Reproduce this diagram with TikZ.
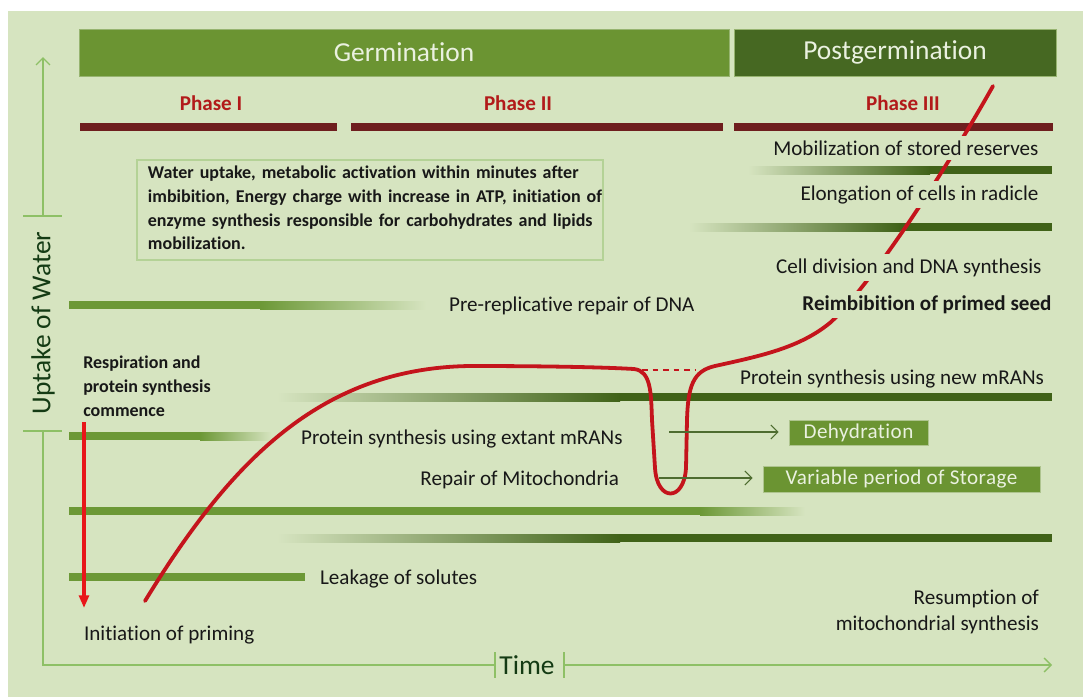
\documentclass[tikz,border=0pt]{standalone}
\usepackage{fontspec}
\setmainfont{Carlito}[Ligatures={NoCommon,TeX}]
\usepackage{xcolor}
\usepackage{tikz}
\usetikzlibrary{arrows.meta}

\definecolor{bgcol}{RGB}{214,228,192}
\definecolor{germgreen}{RGB}{107,148,50}
\definecolor{postgreen}{RGB}{70,104,34}
\definecolor{midgreen}{RGB}{108,152,54}
\definecolor{darkgreen}{RGB}{64,98,24}
\definecolor{axisgreen}{RGB}{142,192,102}
\definecolor{boxgreen}{RGB}{180,210,150}
\definecolor{linegreen}{RGB}{78,108,48}
\definecolor{phasered}{RGB}{178,26,26}
\definecolor{phasebarcol}{RGB}{110,30,30}
\definecolor{curvered}{RGB}{196,20,28}
\definecolor{arrowred}{RGB}{232,22,26}
\definecolor{lighttext}{RGB}{234,241,224}
\definecolor{txtcol}{RGB}{24,24,24}

\begin{document}
\begin{tikzpicture}[
	x=0.025cm, y=-0.025cm,
	every node/.style={text=txtcol, font=\fontsize{15}{18}\selectfont, inner sep=2pt},
	masked/.style={fill=bgcol, inner sep=3pt},
	small/.style={font=\fontsize{12.8}{16.8}\selectfont\bfseries},
	header/.style={draw=germgreen!70!white, text=lighttext, font=\fontsize{19.5}{22}\selectfont, minimum height=1.175cm},
	phase/.style={text=phasered, font=\fontsize{15}{18}\selectfont\bfseries},
	phasebar/.style={fill=phasebarcol},
	axis/.style={draw=axisgreen, line width=0.9pt},
	axislabel/.style={text=txtcol!85!green, font=\fontsize{19.5}{22}\selectfont},
	curve/.style={draw=curvered, line width=2.7pt, line cap=round},
	edge/.style={draw=linegreen, line width=0.8pt, -{Straight Barb[length=5pt,width=10pt]}, shorten >=0.25cm},
	stage/.style={fill=germgreen, draw=germgreen!55!white, text=lighttext, font=\fontsize{15}{18}\selectfont\addfontfeature{LetterSpace=2}}
	]
	
	% Background
	\useasboundingbox (0,0) rectangle (1083,697);
	\fill[white] (0,0) rectangle (1083,697);
	\fill[bgcol] (8,11) rectangle (1083,697);
	
	% Define header nodes
	\node (germination) [header, fill=germgreen, minimum width=16.25cm] at (404,52.5) {Germination};
	\node (postgermination) [header, fill=postgreen, minimum width=8.05cm] at (895,52.5) {Postgermination};
	
	\node (phaseOne) [phase] at (211,103) {Phase I};
	\node (phaseTwo) [phase] at (518,103) {Phase II};
	\node (phaseThree) [phase] at (903,103) {Phase III};
	\path [phasebar] (80,123) rectangle (337,131);
	\path [phasebar] (351,123) rectangle (723,131);
	\path [phasebar] (734,123) rectangle (1053,131);
	
	% Axes
	\node (uptake) [axislabel, rotate=90] at (43,323) {Uptake of Water};
	\node (time) [axislabel] at (527,665) {Time};
	\draw [axis] (23,216) -- (62,216);
	\draw [axis] (23,431) -- (62,431);
	\draw [axis, -{Straight Barb[length=5pt,width=10pt]}] (43,216) -- (43,57);
	\draw [axis] (43,431) -- (43,665) -- (495,665);
	\draw [axis] (495,652) -- (495,678);
	\draw [axis] (564,652) -- (564,678);
	\draw [axis, -{Straight Barb[length=5pt,width=10pt]}] (564,665) -- (1052,665);
	
	% Text box
	\draw [boxgreen, line width=0.8pt] (137,160) rectangle (603,260);
	\node (phaseOneText) [small, text width=11.1cm, align=left, inner sep=0pt] at (370,208) {%
		\makebox[\linewidth][s]{Water uptake, metabolic activation within minutes after}\\
		\makebox[\linewidth][s]{imbibition, Energy charge with increase in ATP, initiation of}\\
		\makebox[\linewidth][s]{enzyme synthesis responsible for carbohydrates and lipids}\\
		mobilization.};
	
	% Gradient bars
	\shade [left color=bgcol, right color=darkgreen] (748,166) rectangle (930,174);
	\fill [darkgreen] (929,166) rectangle (1052,174);
	\shade [left color=bgcol, right color=darkgreen] (689,223) rectangle (900,231);
	\fill [darkgreen] (899,223) rectangle (1052,231);
	\fill [midgreen] (69,301) rectangle (261,309);
	\shade [left color=midgreen, right color=bgcol] (260,301) rectangle (426,309);
	\shade [left color=bgcol, right color=darkgreen] (277,393) rectangle (620,401);
	\fill [darkgreen] (619,393) rectangle (1052,401);
	\fill [midgreen] (69,432) rectangle (201,440);
	\shade [left color=midgreen, right color=bgcol] (200,432) rectangle (272,440);
	\fill [midgreen] (69,507) rectangle (701,515);
	\shade [left color=midgreen, right color=bgcol] (700,507) rectangle (805,515);
	\shade [left color=bgcol, right color=darkgreen] (277,534) rectangle (620,542);
	\fill [darkgreen] (619,534) rectangle (1052,542);
	\fill [midgreen] (69,573) rectangle (305,581);
	
	% Uptake curve
	\draw [curve] (145,601) .. controls (230,462) and (320,368) .. (470,366)
		.. controls (540,366) and (600,367) .. (634,369)
		.. controls (651,371) and (651,392) .. (652,420)
		-- (655,468) .. controls (657,502) and (684,502) .. (686,468)
		-- (687,420) .. controls (688,386) and (693,371) .. (715,366)
		.. controls (760,356) and (800,348) .. (831,322)
		.. controls (870,285) and (940,180) .. (993,86);
	\draw [curvered, line width=1.8pt, dash pattern=on 4pt off 3.5pt] (642,370) -- (695,370);
	\draw [arrowred, line width=2.2pt, -{Triangle[length=9pt,width=7pt]}] (84,422) -- (84,608);
	
	% Labels
	\node (mobilization) [masked, anchor=mid east] at (1043,152) {Mobilization of stored reserves};
	\node (elongation) [masked, anchor=mid east] at (1043,197) {Elongation of cells in radicle};
	\node (division) [masked, anchor=mid east] at (1046,270) {Cell division and DNA synthesis};
	\node (reimbibition) [masked, anchor=mid east, font=\fontsize{15}{18}\selectfont\bfseries] at (1056,307) {Reimbibition of primed seed};
	\node (repairDNA) [anchor=mid west] at (446,308) {Pre-replicative repair of DNA};
	\node (newRNA) [anchor=mid east] at (1047,381) {Protein synthesis using new mRANs};
	\node (respiration) [small, anchor=north west, align=left, inner sep=0pt] at (83,356) {Respiration and\\protein synthesis\\commence};
	\node (extantRNA) [anchor=mid west] at (298,441) {Protein synthesis using extant mRANs};
	\node (repairMito) [anchor=mid east] at (622,482) {Repair of Mitochondria};
	\node (leakage) [anchor=mid west] at (317,581) {Leakage of solutes};
	\node (initiation) [anchor=mid west] at (81,637) {Initiation of priming};
	\node (resumption) [anchor=east, align=right, font=\fontsize{15}{18.5}\selectfont] at (1042,612) {Resumption of\\mitochondrial synthesis};
	
	% Stage boxes
	\node (dehydration) [stage, minimum width=3.475cm, minimum height=0.625cm] at (858.5,432.5) {Dehydration};
	\node (storage) [stage, minimum width=6.925cm, minimum height=0.65cm] at (901.5,479) {Variable period of Storage};
	\coordinate (dehydStart) at (669,432);
	\coordinate (storageStart) at (659,478);
	
	% Draw edges
	\path [edge] (dehydStart) -- (dehydStart -| dehydration.west);
	\path [edge] (storageStart) -- (storageStart -| storage.west);
	
\end{tikzpicture}
\end{document}
